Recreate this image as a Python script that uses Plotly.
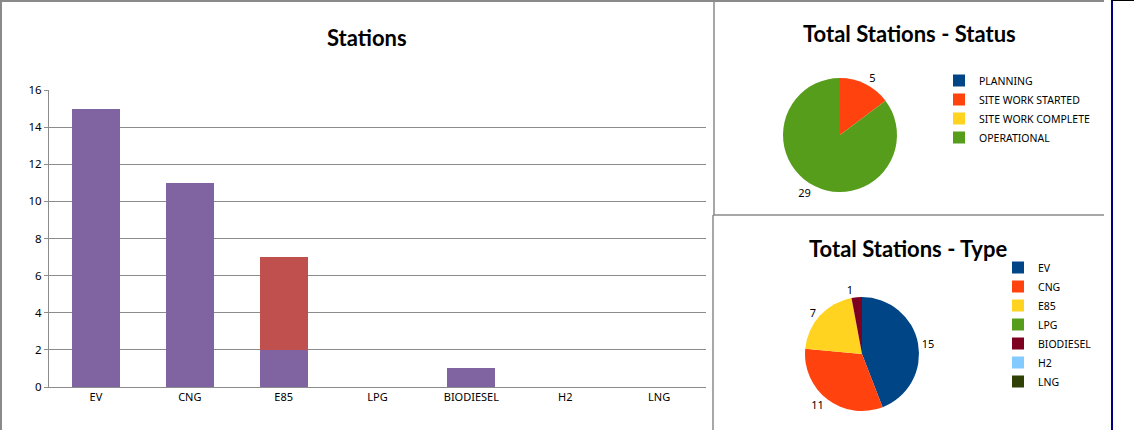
import plotly.graph_objects as go

W, H = 1134, 430

# ---------------- data ----------------
bar_categories = ["EV", "CNG", "E85", "LPG", "BIODIESEL", "H2", "LNG"]
bar_series_a = [15, 11, 2, 0, 1, 0, 0]   # purple
bar_series_b = [0, 0, 5, 0, 0, 0, 0]     # red

status_labels = ["PLANNING", "SITE WORK STARTED", "SITE WORK COMPLETE", "OPERATIONAL"]
status_values = [0, 5, 0, 29]

type_labels = ["EV", "CNG", "E85", "LPG", "BIODIESEL", "H2", "LNG"]
type_values = [15, 11, 7, 0, 1, 0, 0]

y_ticks = [0, 2, 4, 6, 8, 10, 12, 14, 16]

# ---------------- styles ----------------
pie_colors = ["#004586", "#FF420E", "#FFD320", "#579D1C", "#7E0021", "#83CAFF", "#314004"]
FONT = "Noto Sans"
TITLE_FONT = "Lato"


def px(x):
    return x / W


def py(y):
    return 1 - y / H


fig = go.Figure()

fig.add_trace(go.Bar(x=bar_categories, y=bar_series_a, marker_color="#8064A2",
                     marker_line_width=0, showlegend=False))
fig.add_trace(go.Bar(x=bar_categories, y=bar_series_b, marker_color="#C0504D",
                     marker_line_width=0, showlegend=False))


def labels_text(vals):
    return [str(v) if v > 0 else "" for v in vals]


# status pie centre (840,135)
c1x, c1y, h1 = 840, 135, 57
fig.add_trace(go.Pie(
    labels=status_labels, values=status_values, sort=False, direction="clockwise",
    rotation=0, marker=dict(colors=pie_colors[:4], line=dict(width=0)),
    text=labels_text(status_values), textinfo="text", textposition="outside",
    textfont=dict(family=FONT, size=11, color="#000000"),
    domain=dict(x=[px(c1x - h1), px(c1x + h1)], y=[py(c1y + h1), py(c1y - h1)]),
    legend="legend", hoverinfo="label+value",
))

c2x, c2y, h2 = 862, 354, 57
fig.add_trace(go.Pie(
    labels=type_labels, values=type_values, sort=False, direction="clockwise",
    rotation=0, marker=dict(colors=pie_colors, line=dict(width=0)),
    text=labels_text(type_values), textinfo="text", textposition="outside",
    textfont=dict(family=FONT, size=11, color="#000000"),
    domain=dict(x=[px(c2x - h2), px(c2x + h2)], y=[py(c2y + h2), py(c2y - h2)]),
    legend="legend2", hoverinfo="label+value",
))

grid_col = "#8c8c8c"

fig.update_layout(
    width=W, height=H, autosize=False,
    margin=dict(l=0, r=0, t=0, b=0, pad=0, autoexpand=False),
    paper_bgcolor="white", plot_bgcolor="white",
    barmode="stack", bargap=0.49,
    font=dict(family=FONT, size=11, color="#000000"),
    xaxis=dict(domain=[px(49), px(706)], showgrid=False, showline=True,
               linecolor=grid_col, linewidth=1, ticks="", tickfont=dict(size=11),
               fixedrange=True, automargin=False),
    yaxis=dict(domain=[py(387), py(90)], range=[0, 16], tickvals=y_ticks,
               showgrid=True, gridcolor=grid_col, gridwidth=1,
               showline=True, linecolor=grid_col, linewidth=1,
               ticks="outside", ticklen=4, tickcolor=grid_col,
               tickfont=dict(size=11.5), zeroline=False, fixedrange=True,
               automargin=False),
    legend=dict(x=px(939), y=py(66), xanchor="left", yanchor="top",
                font=dict(family=FONT, size=10.5), bgcolor="rgba(0,0,0,0)",
                traceorder="normal"),
    legend2=dict(x=px(998), y=py(253), xanchor="left", yanchor="top",
                 font=dict(family=FONT, size=10.5), bgcolor="rgba(0,0,0,0)",
                 traceorder="normal"),
    showlegend=True,
)

# titles
for tx, ty, txt in [(367, 37, "Stations"), (909, 33, "Total Stations - Status"),
                    (908, 248, "Total Stations - Type")]:
    fig.add_annotation(x=px(tx), y=py(ty), xref="paper", yref="paper",
                       xanchor="center", yanchor="middle", text="<b>%s</b>" % txt,
                       showarrow=False,
                       font=dict(family=TITLE_FONT, size=22, color="#000000"))

# panel borders
border = "#8a8a8a"
shapes = [
    dict(type="line", x0=px(1), x1=px(1), y0=py(0), y1=py(430), line=dict(color=border, width=2)),
    dict(type="line", x0=px(0), x1=px(1104), y0=py(1), y1=py(1), line=dict(color=border, width=2)),
    dict(type="line", x0=px(714), x1=px(714), y0=py(0), y1=py(215), line=dict(color=border, width=1.5)),
    dict(type="line", x0=px(713), x1=px(713), y0=py(215), y1=py(430), line=dict(color=border, width=1.5)),
    dict(type="line", x0=px(713), x1=px(1104), y0=py(215), y1=py(215), line=dict(color=border, width=1.5)),
    dict(type="line", x0=px(1112), x1=px(1112), y0=py(0), y1=py(430), line=dict(color="#000080", width=2)),
    dict(type="line", x0=px(1112), x1=px(1134), y0=py(0.5), y1=py(0.5), line=dict(color="#000000", width=1)),
]
for s in shapes:
    s.update(xref="paper", yref="paper")
fig.update_layout(shapes=shapes)

post = ("document.body.style.margin='0';document.body.style.overflow='hidden';"
        "var gd=document.getElementById('{plot_id}');"
        "gd.style.position='fixed';gd.style.top='0px';gd.style.left='0px';")

fig.write_html("out.html", post_script=post,
               config={"displayModeBar": False, "responsive": False})
